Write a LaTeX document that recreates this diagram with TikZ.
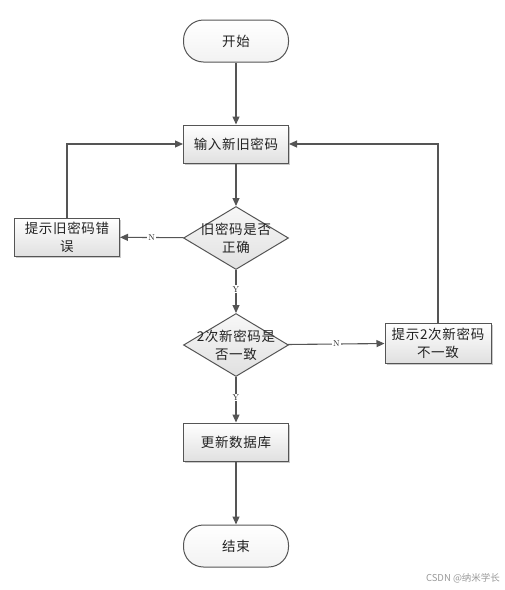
\documentclass[tikz,border=0pt]{standalone}
\usepackage{fontspec}
\newfontfamily\cjk[LetterSpace=5]{Noto Sans CJK SC}
\newfontfamily\cjkplain{Noto Sans CJK SC}
\usetikzlibrary{shapes.geometric,shadows,arrows.meta}
\definecolor{lineC}{HTML}{555555}
\definecolor{textC}{HTML}{222222}
\tikzset{
  cjkfont/.style={font=\cjk\fontsize{13.5}{18}\selectfont},
  base/.style={draw=lineC, line width=1pt, text=textC, cjkfont,
    top color=white, bottom color=black!12, inner sep=0pt, align=center},
  procbox/.style={base, rectangle, minimum width=105pt, minimum height=38pt,
    drop shadow={shadow xshift=1.5pt, shadow yshift=-1.5pt, fill=black!35, opacity=0.6}},
  termbox/.style={base, rectangle, rounded corners=20pt, minimum width=105pt, minimum height=42pt,
    top color=white, bottom color=black!5},
  decbox/.style={base, diamond, minimum width=105pt, minimum height=63pt, text=textC,
    top color=black!3, bottom color=black!12},
  conn/.style={draw=lineC, line width=1.1pt, -{Triangle[length=8pt,width=7pt]}},
  yn/.style={fill=white, inner sep=1pt, font=\fontsize{8.5}{9}\selectfont, text=textC},
}
\begin{document}
\begin{tikzpicture}[x=1pt,y=-1pt]
\useasboundingbox (0,0) rectangle (505,590);
\node[termbox] (start) at (236,41) {开始};
\node[procbox] (input) at (236,144) {输入新旧密码};
\node[decbox, label={[cjkfont, text=textC, align=center]center:旧密码是否\\正确}] (d1) at (236,238) {};
\node[procbox] (err) at (67,237) {提示旧密码错\\误};
\node[decbox, label={[cjkfont, text=textC, align=center]center:2次新密码是\\否一致}] (d2) at (236,345) {};
\node[procbox, minimum width=106pt, minimum height=40pt] (mis) at (438,343) {提示2次新密码\\不一致};
\node[procbox] (upd) at (236,442) {更新数据库};
\node[termbox] (end) at (236,546) {结束};

\draw[conn] (start) -- (input);
\draw[conn] (input) -- (d1);
\draw[conn] (d1) -- node[yn] (n1) {N} (err);
\draw[conn] (err.north) |- (input.west);
\draw[conn] (d1) -- node[yn, pos=0.45] (y1) {Y} (d2);
\draw[conn] (d2) -- node[yn, pos=0.5] (n2) {N} (mis);
\draw[conn] (mis.north) |- (input.east);
\draw[conn] (d2) -- node[yn, pos=0.45] (y2) {Y} (upd);
\draw[conn] (upd) -- (end);

\node[font=\cjkplain\fontsize{9.5}{11}\selectfont, text=black!40] (wm) at (463,578) {CSDN @纳米学长};
\end{tikzpicture}
\end{document}
